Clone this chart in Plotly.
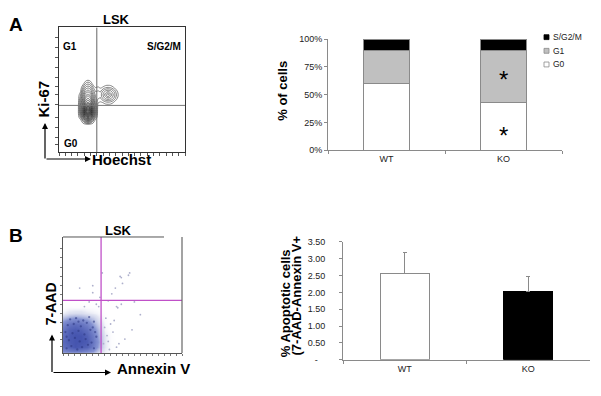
import plotly.graph_objects as go

W, H = 601, 396
FONT = "Liberation Sans, Arial, sans-serif"

# ---------------- data ----------------
categories = ["WT", "KO"]
phase_names = ["G0", "G1", "S/G2/M"]
phase_G0 = [60.5, 43.0]
phase_G1 = [29.0, 46.5]
phase_SG2M = [10.5, 10.5]
phase_colors = ["#ffffff", "#c0c0c0", "#000000"]

apoptotic_mean = [2.55, 2.03]
apoptotic_err = [0.63, 0.45]
apoptotic_ticks = [0, 0.5, 1.0, 1.5, 2.0, 2.5, 3.0, 3.5]
apoptotic_ticktext = ["-\u00a0\u00a0\u00a0", "0.50", "1.00", "1.50", "2.00", "2.50", "3.00", "3.50"]

pct_ticks = [0, 25, 50, 75, 100]
pct_ticktext = ["0%", "25%", "50%", "75%", "100%"]

# Ki-67 / Hoechst contour levels
contour_x = [13, 15, 17, 19, 21, 23, 25, 27, 29, 31, 33, 35, 37, 39, 41, 43, 45, 47, 49, 51]
contour_y = [19, 22, 25, 28, 31, 34, 37, 40, 43, 46, 49, 52, 55, 58, 61]
contour_z = [
    [0, 0, 0, 0, 0, 0, 0, 0, 0, 0, 0, 0, 0, 0, 0, 0, 0, 0, 0, 0],
    [0, 0, 0, 0, 0, 0, 0, 0, 0, 0, 0, 0, 0, 0, 0, 0, 0, 0, 0, 0],
    [0, 0, 0, 1.6, 3.95, 5.05, 3.95, 1.6, 0, 0, 0, 0, 0, 0, 0, 0, 0, 0, 0, 0],
    [0, 0, 1.7, 5.1, 9.0, 10.7, 9.0, 5.1, 1.7, 0, 0, 0, 0, 0, 0, 0, 0, 0, 0, 0],
    [0, 0, 3.2, 7.5, 12.7, 16.5, 12.7, 7.5, 3.2, 0, 0, 0, 0, 0, 0, 0, 0, 0, 0, 0],
    [0, 0, 3.5, 7.6, 12.8, 16.6, 12.8, 7.6, 3.5, 0, 0, 0, 0, 0, 0, 0, 0, 0, 0, 0],
    [0, 0, 3.3, 6.7, 10.6, 13.0, 10.6, 6.7, 3.3, 0.3, 0, 0, 0, 0, 0, 0, 0, 0, 0, 0],
    [0, 0, 2.8, 6.0, 8.9, 10.2, 8.9, 6.0, 2.8, 0.8, 0.6, 0.8, 1.3, 1.5, 1.3, 0.8, 0, 0, 0, 0],
    [0, 0, 2.2, 5.2, 7.6, 8.6, 7.6, 5.2, 2.6, 1.6, 1.4, 2.5, 3.4, 3.75, 3.4, 2.5, 1.4, 0.2, 0, 0],
    [0, 0, 1.4, 4.1, 6.2, 7.0, 6.2, 4.1, 2.2, 2.0, 2.0, 3.3, 4.7, 6.0, 4.7, 3.3, 2.0, 0.7, 0, 0],
    [0, 0, 0.4, 2.9, 4.7, 5.4, 4.7, 2.9, 1.4, 1.6, 1.4, 2.5, 3.4, 3.75, 3.4, 2.5, 1.4, 0.2, 0, 0],
    [0, 0, 0, 1.6, 3.2, 3.8, 3.2, 1.6, 0.6, 0.8, 0.5, 0.8, 1.3, 1.5, 1.3, 0.8, 0, 0, 0, 0],
    [0, 0, 0, 0.2, 1.6, 2.2, 1.6, 0.2, 0, 0, 0, 0, 0, 0, 0, 0, 0, 0, 0, 0],
    [0, 0, 0, 0, 0.1, 0.5, 0.1, 0, 0, 0, 0, 0, 0, 0, 0, 0, 0, 0, 0, 0],
    [0, 0, 0, 0, 0, 0, 0, 0, 0, 0, 0, 0, 0, 0, 0, 0, 0, 0, 0, 0],
]

# 7-AAD / Annexin V density (estimated)
dens_x = [0, 5, 10, 15, 20, 25, 30, 35, 40, 45, 50]
dens_y = [0, 5, 10, 15, 20, 25, 30, 35, 40, 45]
dens_z = [
    [0.50, 0.60, 0.60, 0.60, 0.50, 0.40, 0.20, 0.10, 0.05, 0, 0],
    [0.80, 0.90, 1.00, 0.95, 0.90, 0.70, 0.40, 0.15, 0.05, 0.02, 0],
    [0.85, 0.95, 1.00, 1.00, 0.95, 0.75, 0.45, 0.15, 0.05, 0.02, 0],
    [0.80, 0.95, 1.00, 1.00, 0.90, 0.70, 0.40, 0.15, 0.05, 0, 0],
    [0.75, 0.90, 0.95, 0.90, 0.80, 0.60, 0.35, 0.10, 0.03, 0, 0],
    [0.60, 0.75, 0.80, 0.75, 0.65, 0.45, 0.25, 0.08, 0.02, 0, 0],
    [0.35, 0.45, 0.50, 0.45, 0.40, 0.30, 0.15, 0.05, 0, 0, 0],
    [0.12, 0.18, 0.20, 0.20, 0.15, 0.12, 0.08, 0.03, 0, 0, 0],
    [0.03, 0.05, 0.05, 0.05, 0.05, 0.04, 0.03, 0.01, 0, 0, 0],
    [0, 0, 0, 0, 0, 0, 0, 0, 0, 0, 0],
]
sparse_x = [49, 56, 50, 44, 41, 38, 49, 45, 33, 25, 14, 25, 48, 55, 65, 46, 31,
            36, 40, 42, 38, 45, 52, 35, 39, 43, 34, 37, 58, 47, 60, 30, 28, 22, 18]
sparse_y = [65, 69, 60, 56, 51, 45, 42, 40, 69, 52, 56, 58, 66, 67, 33, 39, 48,
            30, 25, 18, 10, 5, 12, 22, 3, 28, 8, 15, 20, 8, 44, 40, 42, 44, 40]
core_x = [3, 7, 12, 16, 21, 26, 5, 10, 14, 19, 24, 28, 2, 8, 13, 18, 23, 27, 4, 9,
          15, 20, 25, 6, 11, 17, 22, 3, 13, 26]
core_y = [4, 6, 3, 5, 7, 4, 11, 13, 10, 12, 9, 14, 18, 17, 19, 16, 20, 18, 24, 25,
          23, 26, 22, 29, 30, 28, 31, 14, 27, 27]


def px(x):
    return x / W


def py(y):
    return 1 - y / H


fig = go.Figure()

# ---------- top-right stacked bars ----------
for name, vals, col in zip(phase_names, [phase_G0, phase_G1, phase_SG2M], phase_colors):
    fig.add_trace(go.Bar(
        x=categories, y=vals, name=name, width=0.4,
        marker=dict(color=col, line=dict(color="#8a8a8a", width=1)),
        xaxis="x", yaxis="y", showlegend=False, hoverinfo="skip"))

# ---------- bottom-right bars ----------
fig.add_trace(go.Bar(
    x=categories, y=apoptotic_mean, width=0.4,
    marker=dict(color=["#ffffff", "#000000"], line=dict(color=["#8a8a8a", "#000000"], width=1)),
    error_y=dict(type="data", array=apoptotic_err, arrayminus=[0, 0], symmetric=False,
                 color="#8a8a8a", thickness=1, width=2),
    xaxis="x2", yaxis="y2", showlegend=False, hoverinfo="skip"))

# ---------- panel A contour ----------
fig.add_trace(go.Contour(
    x=contour_x, y=contour_y, z=contour_z,
    contours=dict(coloring="lines", start=0.7, end=17, size=0.85),
    line=dict(width=0.7, smoothing=1.3),
    colorscale=[[0, "#555555"], [1, "#111111"]], showscale=False,
    xaxis="x3", yaxis="y3", hoverinfo="skip"))

# ---------- panel B dot plot ----------
fig.add_trace(go.Heatmap(
    x=dens_x, y=dens_y, z=dens_z, zsmooth="best", zmin=0, zmax=1,
    colorscale=[[0, "rgba(255,255,255,0)"], [0.15, "rgba(200,205,230,0.5)"],
                [0.5, "rgba(120,135,205,0.9)"], [1, "rgb(70,85,175)"]],
    showscale=False, xaxis="x4", yaxis="y4", hoverinfo="skip"))
fig.add_trace(go.Scatter(
    x=sparse_x, y=sparse_y, mode="markers",
    marker=dict(size=1.8, color="#aeb0cc"), xaxis="x4", yaxis="y4",
    showlegend=False, hoverinfo="skip"))
fig.add_trace(go.Scatter(
    x=core_x, y=core_y, mode="markers",
    marker=dict(size=2.3, color="#2a3580", opacity=0.55), xaxis="x4", yaxis="y4",
    showlegend=False, hoverinfo="skip"))

axis_font = dict(family=FONT, size=9, color="#222")

layout = dict(
    width=W, height=H, margin=dict(l=0, r=0, t=0, b=0),
    paper_bgcolor="white", plot_bgcolor="rgba(0,0,0,0)",
    barmode="stack", showlegend=False,
    font=dict(family=FONT),
    xaxis=dict(domain=[px(328), px(562)], anchor="y", type="category",
               categoryorder="array", categoryarray=categories,
               range=[-0.5, 1.5], showline=True, linecolor="#8a8a8a", linewidth=1,
               ticks="outside", tickson="boundaries", ticklen=3, tickcolor="#8a8a8a",
               tickfont=axis_font, showgrid=False, zeroline=False, fixedrange=True),
    yaxis=dict(domain=[py(149), py(35)], anchor="x", range=[0, 100],
               tickvals=pct_ticks, ticktext=pct_ticktext, tickfont=axis_font,
               showline=True, linecolor="#8a8a8a", linewidth=1, ticks="outside",
               ticklen=3, tickcolor="#8a8a8a", showgrid=False, zeroline=False),
    xaxis2=dict(domain=[px(343), px(590)], anchor="y2", type="category",
                categoryorder="array", categoryarray=categories,
                range=[-0.5, 1.5], showline=True, linecolor="#8a8a8a", linewidth=1,
                ticks="outside", tickson="boundaries", ticklen=3, tickcolor="#8a8a8a",
                tickfont=axis_font, showgrid=False, zeroline=False),
    yaxis2=dict(domain=[py(364), py(243)], anchor="x2", range=[0, 3.5],
                tickvals=apoptotic_ticks, ticktext=apoptotic_ticktext, tickfont=axis_font,
                showline=True, linecolor="#8a8a8a", linewidth=1, ticks="outside",
                ticklen=3, tickcolor="#8a8a8a", showgrid=False, zeroline=False,
                ticklabelstandoff=12),
    xaxis3=dict(domain=[px(59), px(185)], anchor="y3", range=[0, 100],
                showline=True, mirror=True, linecolor="#333", linewidth=1,
                ticks="outside", ticklen=3, tickcolor="#555",
                tickvals=list(range(0, 101, 5)), showticklabels=False,
                showgrid=False, zeroline=False),
    yaxis3=dict(domain=[py(151), py(23)], anchor="x3", range=[0, 100],
                showline=True, mirror=True, linecolor="#333", linewidth=1,
                ticks="outside", ticklen=3, tickcolor="#555",
                tickvals=[6, 12, 20, 28, 38, 46, 53, 60, 68, 76, 84, 92],
                showticklabels=False, showgrid=False, zeroline=False),
    xaxis4=dict(domain=[px(63), px(182)], anchor="y4", range=[0, 100],
                showline=True, linecolor="#555", linewidth=1,
                ticks="outside", ticklen=2, tickcolor="#777",
                tickvals=list(range(0, 101, 5)), showticklabels=False,
                showgrid=False, zeroline=False),
    yaxis4=dict(domain=[py(357), py(238)], anchor="x4", range=[0, 100],
                showline=True, linecolor="#555", linewidth=1,
                ticks="outside", ticklen=2, tickcolor="#777",
                tickvals=[6, 12, 18, 26, 34, 42, 50, 58, 66, 74, 82, 90],
                showticklabels=False, showgrid=False, zeroline=False),
)
fig.update_layout(**layout)

shapes = []
# quadrant gates
shapes.append(dict(type="line", xref="x3", yref="y3", x0=30, x1=30, y0=0, y1=100,
                   line=dict(color="#666", width=1)))
shapes.append(dict(type="line", xref="x3", yref="y3", x0=0, x1=100, y0=37.5, y1=37.5,
                   line=dict(color="#777", width=1)))
shapes.append(dict(type="line", xref="x4", yref="y4", x0=32, x1=32, y0=0, y1=100,
                   line=dict(color="#c050c8", width=1.3)))
shapes.append(dict(type="line", xref="x4", yref="y4", x0=0, x1=100, y0=45.4, y1=45.4,
                   line=dict(color="#c050c8", width=1.3)))
# B frame top (partial) and right
shapes.append(dict(type="line", xref="paper", yref="paper", x0=px(63), x1=px(164),
                   y0=py(238), y1=py(238), line=dict(color="#555", width=1)))
shapes.append(dict(type="line", xref="paper", yref="paper", x0=px(182), x1=px(182),
                   y0=py(238), y1=py(357), line=dict(color="#666", width=1.2)))
# manual legend swatches
for i, (name, col) in enumerate(zip(phase_names[::-1], phase_colors[::-1])):
    yc = 33 + 14 * i
    shapes.append(dict(type="rect", xref="paper", yref="paper",
                       x0=px(544), x1=px(549), y0=py(yc + 2.5), y1=py(yc - 2.5),
                       fillcolor=col, line=dict(color="#8a8a8a" if col != "#000000" else "#000", width=0.8)))
fig.update_layout(shapes=shapes)

ann = []


def text(x, y, t, size, bold=True, angle=0, color="#000", xanchor="center", family=FONT):
    ann.append(dict(xref="paper", yref="paper", x=px(x), y=py(y), text=("<b>%s</b>" % t) if bold else t,
                    showarrow=False, textangle=angle, xanchor=xanchor, yanchor="middle",
                    font=dict(family=family, size=size, color=color)))


text(16, 20, "A", 19)
text(16, 236, "B", 19)
text(116, 15, "LSK", 13)
text(118, 231, "LSK", 13)
text(70, 43, "G1", 10)
text(164, 43, "S/G2/M", 10)
text(71, 142, "G0", 10)
text(44, 97, "Ki-67", 15, angle=-90)
text(122, 158, "Hoechst", 15)
text(51, 306, "7-AAD", 14, angle=-90)
text(153, 373, "Annexin V", 15)
text(283, 88, "% of cells", 13, angle=-90)
text(285, 306, "% Apoptotic cells", 13, angle=-90)
text(296, 298, "(7-AAD-Annexin V+", 13, angle=-90)
for i, name in enumerate(phase_names[::-1]):
    text(551, 33 + 14 * i, name, 8.5, bold=False, color="#222", xanchor="left")

# significance asterisks on KO
ann.append(dict(xref="x", yref="y", x="KO", y=phase_G0[1] + phase_G1[1] * 0.45, text="*",
                showarrow=False, font=dict(family=FONT, size=24, color="#000"), yanchor="middle"))
ann.append(dict(xref="x", yref="y", x="KO", y=phase_G0[1] * 0.30, text="*",
                showarrow=False, font=dict(family=FONT, size=24, color="#000"), yanchor="middle"))

# axis arrows
arrow = dict(showarrow=True, arrowhead=2, arrowsize=1, arrowwidth=1.2, arrowcolor="#000",
             text="", xref="paper", yref="paper", axref="pixel", ayref="pixel")
ann.append(dict(arrow, x=px(45), y=py(121), ax=0, ay=37))
ann.append(dict(arrow, x=px(91), y=py(158), ax=-46, ay=0))
ann.append(dict(arrow, x=px(52), y=py(338), ax=0, ay=39))
ann.append(dict(arrow, x=px(111), y=py(377), ax=-59, ay=0))

fig.update_layout(annotations=ann)
fig.write_html("out.html", config={"displayModeBar": False},
               post_script="document.body.style.margin='0';")
